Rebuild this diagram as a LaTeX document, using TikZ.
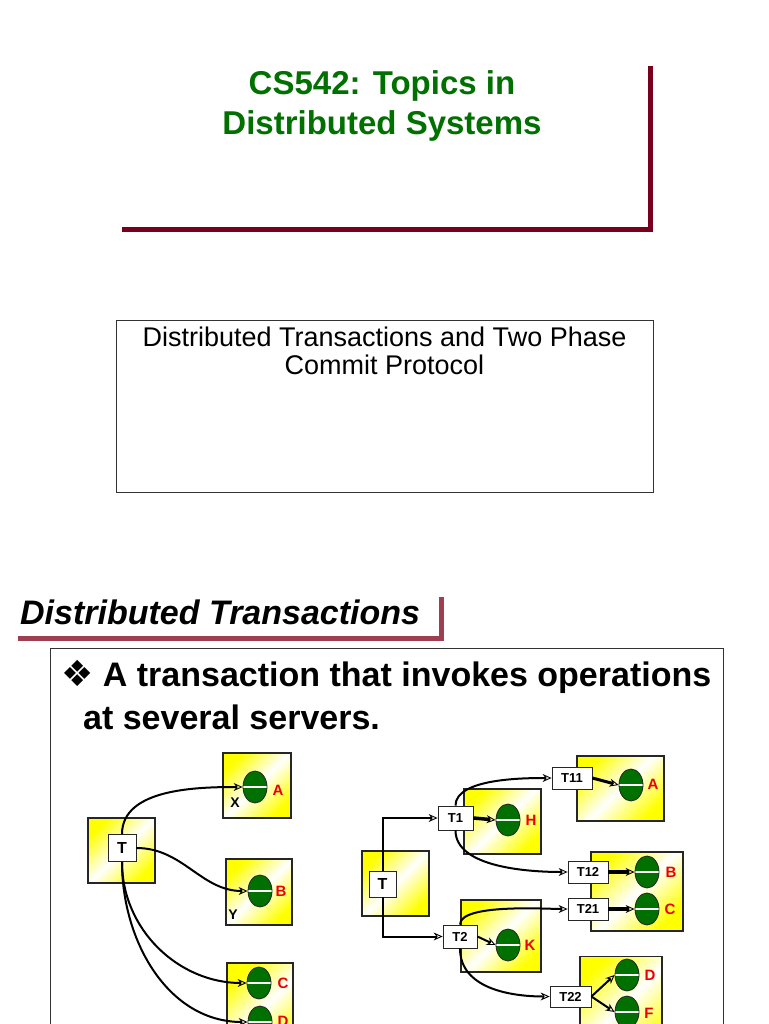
\documentclass[tikz,border=0pt]{standalone}
\usepackage{fontspec}
\setmainfont{Liberation Sans}
\newfontfamily\symfont{DejaVu Sans}
\usetikzlibrary{arrows.meta,shapes.geometric}
\definecolor{ttlgreen}{RGB}{0,112,0}
\definecolor{dbgreen}{RGB}{0,112,0}
\definecolor{barred}{RGB}{120,0,30}
\definecolor{secred}{RGB}{158,62,80}
\definecolor{lblred}{RGB}{235,0,0}

\begin{document}
\begin{tikzpicture}[x=1pt, y=1pt,
    srv/.style={rectangle, draw=black!85, line width=1.2pt, top color=yellow, bottom color=yellow, middle color=white, shading angle=45, inner sep=0pt},
    tbox/.style={rectangle, draw=black!85, line width=0.8pt, fill=white, inner sep=0pt, font=\fontsize{13}{13}\selectfont\bfseries},
    db/.style={ellipse, draw=black!85, line width=0.8pt, fill=dbgreen, minimum width=24pt, minimum height=32pt, inner sep=0pt,
        path picture={\draw[white, line width=1.6pt] (path picture bounding box.west) -- (path picture bounding box.east);}},
    lbl/.style={text=lblred, font=\fontsize{15}{15}\selectfont\bfseries, inner sep=0pt},
    conn/.style={line width=2pt, -{Stealth[open, length=9pt, width=8pt, line width=0.9pt]}}]
    \useasboundingbox (0,-1024) rectangle (768,0);
    \clip (0,-1024) rectangle (768,0);
    \fill[white] (0,-1024) rectangle (768,0);

    \node[text=ttlgreen, font=\fontsize{33}{40}\selectfont\bfseries, align=center] (title) at (382,-106) {CS542: Topics in\\Distributed Systems};
    \draw[barred, line width=5pt] (122,-230) -- (650,-230) -- (650,-66);

    \node[draw=black!80, line width=0.8pt, minimum width=537pt, minimum height=172pt] (subbox) at (384.5,-406) {};
    \node[font=\fontsize{27}{28}\selectfont, align=center, anchor=north, inner sep=0pt] (subtitle) at (384.5,-327) {Distributed Transactions and Two Phase\\Commit Protocol};

    \node[font=\fontsize{34}{34}\selectfont\bfseries\itshape, anchor=base west, inner sep=0pt] (sect) at (20,-624) {Distributed Transactions};
    \draw[secred, line width=5pt] (18,-638) -- (441,-638) -- (441,-597);

    \draw[black!80, line width=0.8pt] (50,-1040) rectangle (723,-648);
    \node[font=\fontsize{34}{43}\selectfont\bfseries, align=left, anchor=north west, inner sep=0pt] (bullet) at (61,-660) {{\symfont\fontsize{36}{36}\selectfont ❖} A transaction that invokes operations\\\hspace*{22pt}at several servers.};

    \node[srv, minimum width=67pt, minimum height=65pt] (LT) at (121.5,-850.5) {};
    \node[srv, minimum width=68pt, minimum height=65pt] (LA) at (257,-785.5) {};
    \node[srv, minimum width=66pt, minimum height=66pt] (LB) at (259,-892) {};
    \node[srv, minimum width=66pt, minimum height=96pt] (LC) at (260,-1011) {};
    \node[db] (la) at (255,-787) {};
    \node[db] (lb) at (260,-891) {};
    \node[db] (lc) at (259,-983) {};
    \node[db] (ld) at (260,-1022) {};
    \node[lbl] (lan) at (278,-790) {A};
    \node[lbl] (lbn) at (281,-891) {B};
    \node[lbl] (lcn) at (283,-983) {C};
    \node[lbl] (ldn) at (283,-1021) {D};
    \node[font=\fontsize{14}{14}\selectfont\bfseries, inner sep=0pt] (lx) at (235,-803) {X};
    \node[font=\fontsize{14}{14}\selectfont\bfseries, inner sep=0pt] (ly) at (233,-915) {Y};
    \node[tbox, minimum width=28pt, minimum height=27pt, font=\fontsize{16}{16}\selectfont\bfseries] (Lt) at (122,-848) {T};
    \draw[conn] (Lt.north) to[out=90, in=180, looseness=0.9] (la.west);
    \draw[conn] (Lt.east) to[out=0, in=180] (lb.west);
    \draw[conn] (Lt.south) to[out=-90, in=180] (lc.west);
    \draw[conn] (Lt.south) to[out=-90, in=180] (ld.west);

    \node[srv, minimum width=67pt, minimum height=65pt] (RT) at (395.5,-883.5) {};
    \node[srv, minimum width=77pt, minimum height=65pt] (RH) at (502.5,-821.5) {};
    \node[srv, minimum width=87pt, minimum height=65pt] (RA) at (620.5,-788.5) {};
    \node[srv, minimum width=92pt, minimum height=79pt] (RBC) at (637,-891.5) {};
    \node[srv, minimum width=80pt, minimum height=72pt] (RK) at (501,-936) {};
    \node[srv, minimum width=82pt, minimum height=103pt] (RDF) at (621,-1008) {};
    \node[db] (h) at (508,-820) {};
    \node[db] (a) at (631,-785) {};
    \node[db] (b) at (647,-872) {};
    \node[db] (c) at (647,-909) {};
    \node[db] (k) at (508,-945) {};
    \node[db] (d) at (627,-975) {};
    \node[db] (f) at (627,-1012) {};
    \node[lbl] (hn) at (531,-820) {H};
    \node[lbl] (an) at (653,-784) {A};
    \node[lbl] (bn) at (671,-872) {B};
    \node[lbl] (cn) at (670,-909) {C};
    \node[lbl] (kn) at (530,-945) {K};
    \node[lbl] (dn) at (650,-975) {D};
    \node[lbl] (fn) at (649,-1013) {F};
    \node[tbox, minimum width=27pt, minimum height=26pt, font=\fontsize{16}{16}\selectfont\bfseries] (Rt) at (382.5,-884) {T};
    \node[tbox, minimum width=35pt, minimum height=24pt] (t1) at (455.5,-818) {T1};
    \node[tbox, minimum width=40pt, minimum height=22pt] (t11) at (572,-778) {T11};
    \node[tbox, minimum width=40pt, minimum height=22pt] (t12) at (588,-872) {T12};
    \node[tbox, minimum width=40pt, minimum height=22pt] (t21) at (588,-909) {T21};
    \node[tbox, minimum width=34pt, minimum height=23pt] (t2) at (460,-936.5) {T2};
    \node[tbox, minimum width=41pt, minimum height=21pt] (t22) at (570.5,-996.5) {T22};
    \draw[conn] (Rt.north) |- (t1.west);
    \draw[conn] (Rt.south) |- (t2.west);
    \draw[conn] (t1.north) to[out=90, in=180, looseness=0.7] (t11.west);
    \draw[conn] (t1.south) to[out=-90, in=180, looseness=0.8] (t12.west);
    \draw[conn] (t2.north) to[out=90, in=180, looseness=0.5] (t21.west);
    \draw[conn] (t2.south) to[out=-90, in=180] (t22.west);
    \draw[conn, line width=3.5pt] (t1.east) -- (h.west);
    \draw[conn, line width=3pt] (t11.east) -- (a.west);
    \draw[conn, line width=3.5pt] (t12.east) -- (b.west);
    \draw[conn, line width=3.5pt] (t21.east) -- (c.west);
    \draw[conn] (t2.east) -- (k.west);
    \draw[conn] (t22.east) -- (d.west);
    \draw[conn] (t22.east) -- (f.west);
\end{tikzpicture}
\end{document}
